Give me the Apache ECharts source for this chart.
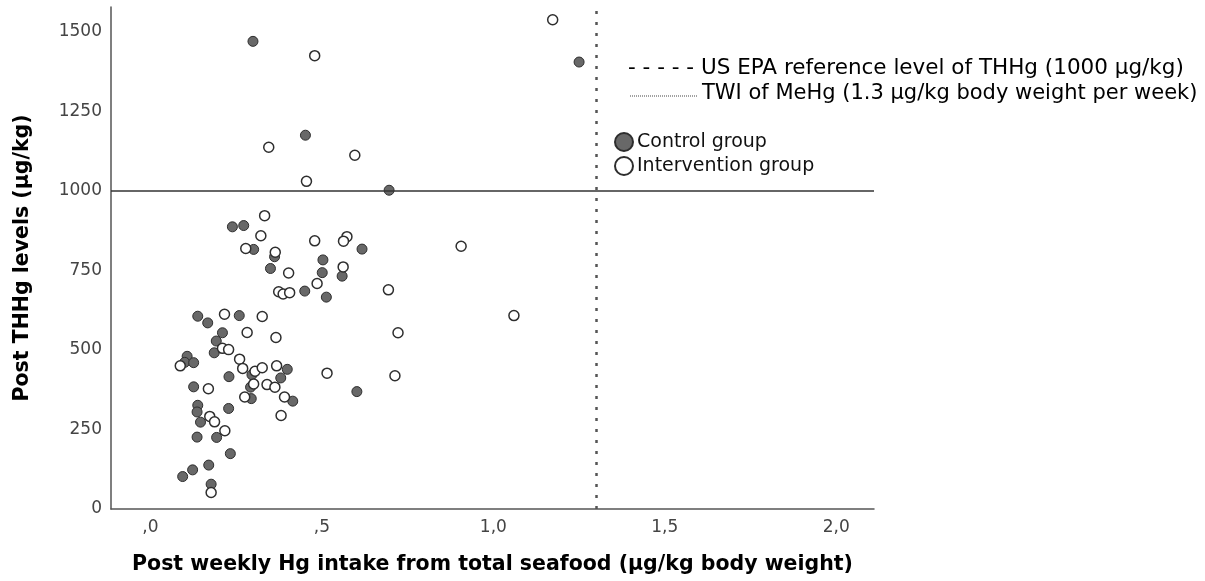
<!DOCTYPE html>
<html>
<head>
<meta charset="utf-8">
<script src="https://cdn.jsdelivr.net/npm/echarts@6/dist/echarts.min.js"></script>
<style>
  html, body { margin: 0; padding: 0; background: #fff; }
  #chart { width: 1205px; height: 581px; }
</style>
</head>
<body>
<div id="chart"></div>
<script>
// control group: [weekly Hg intake, THHg level]
var controlGroup = [
  [0.299, 1470], [1.250, 1405], [0.452, 1175], [0.696, 1002],
  [0.239, 887], [0.272, 891], [0.301, 816], [0.362, 793], [0.350, 756],
  [0.617, 817], [0.503, 783], [0.501, 743], [0.559, 732], [0.450, 685],
  [0.513, 666], [0.138, 606], [0.167, 585], [0.259, 608], [0.210, 554],
  [0.192, 528], [0.186, 491], [0.107, 480], [0.100, 461], [0.126, 460],
  [0.296, 422], [0.399, 439], [0.380, 412], [0.229, 416], [0.126, 384],
  [0.602, 369], [0.292, 383], [0.294, 347], [0.415, 339], [0.138, 326],
  [0.136, 305], [0.228, 316], [0.146, 273], [0.136, 226], [0.193, 225],
  [0.233, 174], [0.170, 138], [0.123, 123], [0.094, 102], [0.177, 78]
];
var interventionGroup = [
  [0.479, 1425], [1.173, 1538], [0.345, 1137], [0.596, 1112], [0.455, 1030],
  [0.333, 922], [0.322, 859], [0.278, 819], [0.364, 807], [0.403, 742],
  [0.479, 843], [0.573, 856], [0.563, 842], [0.562, 761], [0.486, 709],
  [0.374, 683], [0.387, 676], [0.406, 680], [0.694, 689], [0.906, 826],
  [1.060, 608], [0.216, 612], [0.326, 605], [0.282, 555], [0.366, 539],
  [0.722, 554], [0.210, 505], [0.228, 501], [0.087, 450], [0.260, 471],
  [0.269, 442], [0.305, 433], [0.326, 444], [0.368, 450], [0.515, 427],
  [0.713, 419], [0.169, 378], [0.301, 393], [0.340, 391], [0.363, 383],
  [0.275, 352], [0.391, 352], [0.381, 294], [0.173, 291], [0.187, 274],
  [0.217, 246], [0.177, 52]
];
var xTicks = [0, 0.5, 1, 1.5, 2];
var yTicks = [0, 250, 500, 750, 1000, 1250, 1500];
var epaLevel = 1000;   // horizontal reference
var twiLevel = 1.3;    // vertical reference

var chart = echarts.init(document.getElementById('chart'));
var font = 'DejaVu Sans';

var option = {
  animation: false,
  backgroundColor: '#fff',
  grid: { left: 111, right: 331, top: 7, bottom: 72, outerBoundsMode: 'none' },
  xAxis: {
    type: 'value',
    min: -0.115,
    max: 2.11,
    name: 'Post weekly Hg intake from total seafood (µg/kg body weight)',
    nameLocation: 'middle',
    nameGap: 45,
    nameTextStyle: { fontFamily: font, fontSize: 20.5, fontWeight: 'bold', color: '#000' },
    axisLine: { show: true, onZero: false, lineStyle: { color: '#555', width: 1.5 } },
    axisTick: { show: false },
    splitLine: { show: false },
    axisLabel: {
      customValues: xTicks,
      margin: 10,
      fontFamily: font,
      fontSize: 17,
      color: '#444',
      formatter: function (v) {
        return v.toFixed(1).replace('.', ',').replace(/^0/, '');
      }
    }
  },
  yAxis: {
    type: 'value',
    min: 0,
    max: 1578,
    name: 'Post THHg levels (µg/kg)',
    nameLocation: 'middle',
    nameGap: 78,
    nameTextStyle: { fontFamily: font, fontSize: 20.5, fontWeight: 'bold', color: '#000' },
    axisLine: { show: true, onZero: false, lineStyle: { color: '#555', width: 1.5 } },
    axisTick: { show: false },
    splitLine: { show: false },
    axisLabel: {
      customValues: yTicks,
      margin: 9,
      fontFamily: font,
      fontSize: 17,
      color: '#444',
      formatter: function (v) { return String(v); }
    }
  },
  legend: {
    orient: 'vertical',
    left: 614,
    top: 132,
    padding: 0,
    itemGap: 4,
    itemWidth: 18,
    itemHeight: 18,
    textStyle: { fontFamily: font, fontSize: 19, color: '#111', padding: [0, 0, 0, -1] },
    data: ['Control group', 'Intervention group']
  },
  graphic: [
    {
      type: 'text', left: 628, top: 57,
      style: { text: '- - - - - US EPA reference level of THHg (1000 µg/kg)', font: '21.5px "DejaVu Sans"', fill: '#000' }
    },
    {
      type: 'line', shape: { x1: 630, y1: 96, x2: 697, y2: 96 },
      style: { stroke: '#444', lineWidth: 1, lineDash: [1, 1] }
    },
    {
      type: 'text', left: 702, top: 83,
      style: { text: 'TWI of MeHg (1.3 µg/kg body weight per week)', font: '21px "DejaVu Sans"', fill: '#000' }
    }
  ],
  series: [
    {
      name: 'Control group',
      type: 'scatter',
      symbol: 'circle',
      symbolSize: 10,
      data: controlGroup,
      itemStyle: { color: '#686868', borderColor: '#2e2e2e', borderWidth: 1, opacity: 1 },
      z: 3,
      markLine: {
        silent: true,
        symbol: 'none',
        label: { show: false },
        data: [
          { yAxis: epaLevel, lineStyle: { type: 'solid', color: '#333', width: 1.5 } },
          { xAxis: twiLevel, lineStyle: { type: [3, 8], color: '#555', width: 2.5 } }
        ]
      }
    },
    {
      name: 'Intervention group',
      type: 'scatter',
      symbol: 'circle',
      symbolSize: 10,
      data: interventionGroup,
      itemStyle: { color: '#fff', borderColor: '#2e2e2e', borderWidth: 1.5, opacity: 1 },
      z: 4
    }
  ]
};

chart.setOption(option);
</script>
</body>
</html>
